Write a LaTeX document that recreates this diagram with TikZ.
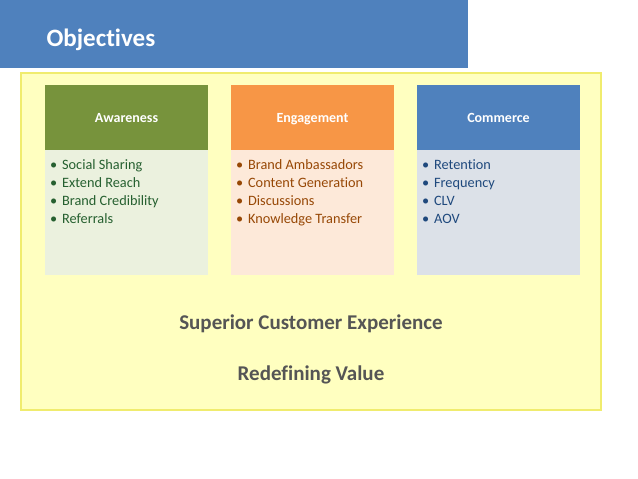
\documentclass[tikz,border=0pt]{standalone}
\usepackage{fontspec}
\setmainfont{Carlito}[Ligatures=NoCommon]
\usetikzlibrary{positioning}

\definecolor{titleblue}{RGB}{79,129,189}
\definecolor{padfill}{RGB}{255,255,192}
\definecolor{padline}{RGB}{240,236,110}
\definecolor{awhead}{RGB}{119,147,60}
\definecolor{awbody}{RGB}{235,241,222}
\definecolor{awtext}{RGB}{38,96,48}
\definecolor{enhead}{RGB}{247,150,70}
\definecolor{enbody}{RGB}{253,233,217}
\definecolor{entext}{RGB}{151,72,6}
\definecolor{cohead}{RGB}{79,129,189}
\definecolor{cobody}{RGB}{220,225,232}
\definecolor{cotext}{RGB}{31,73,125}
\definecolor{slogan}{RGB}{85,85,85}

\begin{document}
\begin{tikzpicture}[x=1pt, y=-1pt,
  headcell/.style={minimum width=163pt, minimum height=65pt, inner sep=0pt,
                   text height=12pt, text depth=2pt,
                   text=white, font=\fontsize{14}{16}\selectfont\bfseries},
  bodycell/.style={minimum width=163pt, minimum height=125pt, inner sep=0pt},
  listtext/.style={anchor=north west, inner sep=0pt, align=left,
                   font=\fontsize{14.3}{18}\selectfont},
  slogantext/.style={text=slogan, font=\fontsize{21}{24}\selectfont\bfseries},
]
\useasboundingbox[fill=white] (0,0) rectangle (638,479);

% Title bar
\fill[titleblue] (0,0) rectangle (468,68);
\node[anchor=west, text=white, font=\fontsize{25}{28}\selectfont\bfseries]
  (title) at (43,40) {Objectives};

% Yellow pad
\filldraw[fill=padfill, draw=padline, line width=1.2pt] (21,73) rectangle (601,410);

% Awareness
\node[headcell, fill=awhead] (awh) at (126.5,117.5) {Awareness};
\node[bodycell, fill=awbody, below=0pt of awh] (awb) {};
\node[listtext, text=awtext] (awl) at ([xshift=5pt,yshift=-9pt]awb.north west)
  {\textbullet\hspace{5pt}Social Sharing\\
   \textbullet\hspace{5pt}Extend Reach\\
   \textbullet\hspace{5pt}Brand Credibility\\
   \textbullet\hspace{5pt}Referrals};

% Engagement
\node[headcell, fill=enhead] (enh) at (312.5,117.5) {Engagement};
\node[bodycell, fill=enbody, below=0pt of enh] (enb) {};
\node[listtext, text=entext] (enl) at ([xshift=5pt,yshift=-9pt]enb.north west)
  {\textbullet\hspace{5pt}Brand Ambassadors\\
   \textbullet\hspace{5pt}Content Generation\\
   \textbullet\hspace{5pt}Discussions\\
   \textbullet\hspace{5pt}Knowledge Transfer};

% Commerce
\node[headcell, fill=cohead] (coh) at (498.5,117.5) {Commerce};
\node[bodycell, fill=cobody, below=0pt of coh] (cob) {};
\node[listtext, text=cotext] (col) at ([xshift=5pt,yshift=-9pt]cob.north west)
  {\textbullet\hspace{5pt}Retention\\
   \textbullet\hspace{5pt}Frequency\\
   \textbullet\hspace{5pt}CLV\\
   \textbullet\hspace{5pt}AOV};

% Bottom lines
\node[slogantext] (sup) at (311,324) {Superior Customer Experience};
\node[slogantext] (red) at (311,375) {Redefining Value};

\end{tikzpicture}
\end{document}
